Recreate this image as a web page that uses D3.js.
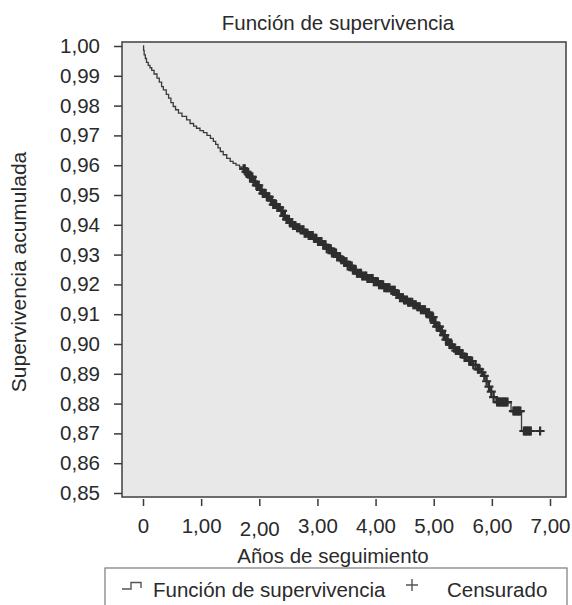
<!DOCTYPE html>
<html>
<head>
<meta charset="utf-8">
<script src="https://cdn.jsdelivr.net/npm/d3@7"></script>
<style>
  body { margin: 0; background: #fff; }
  text { font-family: "Liberation Sans", Arial, sans-serif; fill: #2a2a2a; }
</style>
</head>
<body>
<script>
const width = 572,
    height = 605;

// step points of the survival curve (time in years, cumulative survival)
const stepTimes = [0, 0.01, 0.02, 0.04, 0.06, 0.09, 0.12, 0.15, 0.19, 0.24, 0.28, 0.32, 0.35, 0.40, 0.44, 0.48,
    0.52, 0.56, 0.61, 0.67, 0.75, 0.81, 0.87, 0.92, 0.98, 1.04, 1.10, 1.16, 1.21, 1.25, 1.29, 1.33, 1.38, 1.44,
    1.50, 1.55, 1.60, 1.66, 1.70, 1.76, 1.80, 1.84, 1.90, 1.95, 2.01, 2.06, 2.12, 2.18, 2.24, 2.30, 2.36, 2.42,
    2.47, 2.52, 2.58, 2.64, 2.70, 2.78, 2.85, 2.93, 3.00, 3.08, 3.16, 3.24, 3.33, 3.40, 3.45, 3.52, 3.60, 3.68,
    3.76, 3.85, 3.96, 4.05, 4.15, 4.25, 4.34, 4.42, 4.48, 4.56, 4.64, 4.71, 4.78, 4.86, 4.94, 5.00, 5.05, 5.11,
    5.16, 5.21, 5.26, 5.32, 5.38, 5.45, 5.52, 5.60, 5.68, 5.75, 5.81, 5.86, 5.90, 5.94, 5.98, 6.03, 6.07, 6.33,
    6.51, 6.83];
const stepSurv = [1.0000, 0.9985, 0.9970, 0.9958, 0.9945, 0.9935, 0.9927, 0.9918, 0.9906, 0.9892, 0.9879, 0.9864,
    0.9853, 0.9838, 0.9825, 0.9810, 0.9797, 0.9786, 0.9775, 0.9764, 0.9752, 0.9740, 0.9731, 0.9724, 0.9716,
    0.9709, 0.9700, 0.9690, 0.9680, 0.9670, 0.9658, 0.9646, 0.9635, 0.9623, 0.9613, 0.9606, 0.9600, 0.9594,
    0.9588, 0.9578, 0.9570, 0.9561, 0.9545, 0.9532, 0.9517, 0.9505, 0.9494, 0.9482, 0.9468, 0.9458, 0.9447,
    0.9430, 0.9418, 0.9406, 0.9398, 0.9390, 0.9383, 0.9372, 0.9364, 0.9355, 0.9344, 0.9333, 0.9320, 0.9305,
    0.9292, 0.9283, 0.9276, 0.9262, 0.9248, 0.9237, 0.9228, 0.9220, 0.9209, 0.9199, 0.9189, 0.9180, 0.9166,
    0.9155, 0.9148, 0.9140, 0.9132, 0.9125, 0.9115, 0.9105, 0.9090, 0.9072, 0.9058, 0.9044, 0.9030, 0.9015,
    0.8998, 0.8986, 0.8978, 0.8968, 0.8955, 0.8943, 0.8930, 0.8915, 0.8905, 0.8893, 0.8875, 0.8857, 0.8840,
    0.8822, 0.8805, 0.8775, 0.8708, 0.8708];

// censored observations (years)
const censorTimes = [1.73, 1.75, 1.77, 1.79, 1.81, 1.84, 1.86, 1.88, 1.90, 1.93, 1.95, 1.97, 1.99, 2.02, 2.04,
    2.06, 2.08, 2.11, 2.13, 2.15, 2.17, 2.20, 2.22, 2.24, 2.26, 2.29, 2.31, 2.33, 2.35, 2.38, 2.40, 2.42, 2.44,
    2.47, 2.49, 2.51, 2.53, 2.56, 2.58, 2.60, 2.62, 2.65, 2.67, 2.69, 2.71, 2.74, 2.76, 2.78, 2.80, 2.83, 2.85,
    2.87, 2.89, 2.92, 2.94, 2.96, 2.98, 3.01, 3.03, 3.05, 3.07, 3.10, 3.12, 3.14, 3.16, 3.19, 3.21, 3.23, 3.25,
    3.28, 3.30, 3.32, 3.34, 3.37, 3.39, 3.41, 3.43, 3.46, 3.48, 3.50, 3.52, 3.55, 3.57, 3.59, 3.61, 3.64, 3.66,
    3.68, 3.70, 3.73, 3.75, 3.77, 3.79, 3.82, 3.84, 3.86, 3.88, 3.91, 3.93, 3.95, 3.97, 4.00, 4.02, 4.04, 4.06,
    4.09, 4.11, 4.13, 4.15, 4.18, 4.20, 4.22, 4.24, 4.27, 4.29, 4.31, 4.33, 4.36, 4.38, 4.40, 4.42, 4.45, 4.47,
    4.49, 4.51, 4.54, 4.56, 4.58, 4.60, 4.63, 4.65, 4.67, 4.69, 4.72, 4.74, 4.76, 4.78, 4.81, 4.83, 4.85, 4.87,
    4.90, 4.92, 4.94, 4.96, 4.99, 5.01, 5.03, 5.05, 5.08, 5.10, 5.12, 5.14, 5.17, 5.19, 5.21, 5.24, 5.27, 5.29,
    5.31, 5.35, 5.38, 5.42, 5.44, 5.46, 5.49, 5.53, 5.55, 5.57, 5.61, 5.64, 5.66, 5.68, 5.72, 5.76, 5.79, 5.83,
    5.87, 5.91, 5.95, 5.99, 6.03, 6.09, 6.11, 6.13, 6.15, 6.17, 6.19, 6.21, 6.23, 6.25, 6.27, 6.37, 6.39, 6.41,
    6.43, 6.45, 6.47, 6.49, 6.55, 6.57, 6.59, 6.61, 6.63, 6.65, 6.67, 6.83];

const yTicks = [0.85, 0.86, 0.87, 0.88, 0.89, 0.90, 0.91, 0.92, 0.93, 0.94, 0.95, 0.96, 0.97, 0.98, 0.99, 1.00];
const xTicks = [0, 1, 2, 3, 4, 5, 6, 7];
const xTickLabels = ['0', '1,00', '2,00', '3,00', '4,00', '5,00', '6,00', '7,00'];

const frame = {left: 122, right: 566, top: 42, bottom: 497};

const svg = d3.select('body').append('svg')
    .attr('width', width)
    .attr('height', height);

const x = d3.scaleLinear().domain([0, 7]).range([143, 550]);
const y = d3.scaleLinear().domain([0.85, 1.00]).range([493, 46]);

// title
svg.append('text')
    .attr('x', 338).attr('y', 30)
    .attr('text-anchor', 'middle')
    .style('font-size', '20.5px')
    .text('Función de supervivencia');

// plot background + frame
svg.append('rect')
    .attr('x', frame.left).attr('y', frame.top)
    .attr('width', frame.right - frame.left)
    .attr('height', frame.bottom - frame.top)
    .attr('fill', '#e8e8e8')
    .attr('stroke', '#4a4a4a')
    .attr('stroke-width', 1.6);

// y axis
const yAxis = d3.axisLeft(y)
    .tickValues(yTicks)
    .tickSize(8)
    .tickPadding(14)
    .tickFormat(d => d3.format('.2f')(d).replace('.', ','));
const gy = svg.append('g')
    .attr('transform', `translate(${frame.left},0)`)
    .call(yAxis);
gy.select('.domain').remove();
gy.selectAll('.tick line').attr('stroke', '#3a3a3a').attr('stroke-width', 1.5);
gy.selectAll('.tick text')
    .style('font-size', '20.5px')
    .style('font-family', '"Liberation Sans", Arial, sans-serif')
    .attr('fill', '#2a2a2a');

// x axis
const xAxis = d3.axisBottom(x)
    .tickValues(xTicks)
    .tickSize(7)
    .tickPadding(12)
    .tickFormat((d, i) => xTickLabels[i]);
const gx = svg.append('g')
    .attr('transform', `translate(0,${frame.bottom + 2})`)
    .call(xAxis);
gx.select('.domain').remove();
gx.selectAll('.tick line').attr('stroke', '#3a3a3a').attr('stroke-width', 1.5);
gx.selectAll('.tick text')
    .style('font-size', '20.5px')
    .style('font-family', '"Liberation Sans", Arial, sans-serif')
    .attr('fill', '#2a2a2a')
    .attr('dy', (d, i) => i === 2 ? '0.9em' : '0.71em');

// axis titles
svg.append('text')
    .attr('x', 333).attr('y', 563)
    .attr('text-anchor', 'middle')
    .style('font-size', '20.5px')
    .text('Años de seguimiento');

svg.append('text')
    .attr('transform', 'translate(26,272) rotate(-90)')
    .attr('text-anchor', 'middle')
    .style('font-size', '21px')
    .text('Supervivencia acumulada');

// survival curve
const curveData = stepTimes.map((t, i) => [t, stepSurv[i]]);
const line = d3.line()
    .x(d => x(d[0]))
    .y(d => y(d[1]))
    .curve(d3.curveStepAfter);

svg.append('path')
    .datum(curveData)
    .attr('d', line)
    .attr('fill', 'none')
    .attr('stroke', '#3a3a3a')
    .attr('stroke-width', 1.3);

// censored marks
const bis = d3.bisector(d => d).right;
const survAt = t => stepSurv[Math.max(0, bis(stepTimes, t) - 1)];
const h = 4.5;
svg.append('g')
    .attr('stroke', '#2e2e2e')
    .attr('stroke-width', 2.2)
    .selectAll('path')
    .data(censorTimes)
  .enter().append('path')
    .attr('d', t => {
        const cx = x(t), cy = y(survAt(t));
        return `M${cx - h},${cy}H${cx + h}M${cx},${cy - h}V${cy + h}`;
    });

// legend
const legend = svg.append('g');
legend.append('rect')
    .attr('x', 105).attr('y', 568)
    .attr('width', 462).attr('height', 60)
    .attr('fill', '#fff')
    .attr('stroke', '#7a7a7a')
    .attr('stroke-width', 1.2);
legend.append('path')
    .attr('d', 'M122,589H131V582.5H141V588')
    .attr('fill', 'none')
    .attr('stroke', '#555')
    .attr('stroke-width', 1.4);
legend.append('text')
    .attr('x', 153).attr('y', 597)
    .style('font-size', '20.5px')
    .text('Función de supervivencia');
legend.append('path')
    .attr('d', 'M406,585H418M412,579V591')
    .attr('stroke', '#555')
    .attr('stroke-width', 1.4);
legend.append('text')
    .attr('x', 447).attr('y', 597)
    .style('font-size', '20.5px')
    .text('Censurado');
</script>
</body>
</html>
